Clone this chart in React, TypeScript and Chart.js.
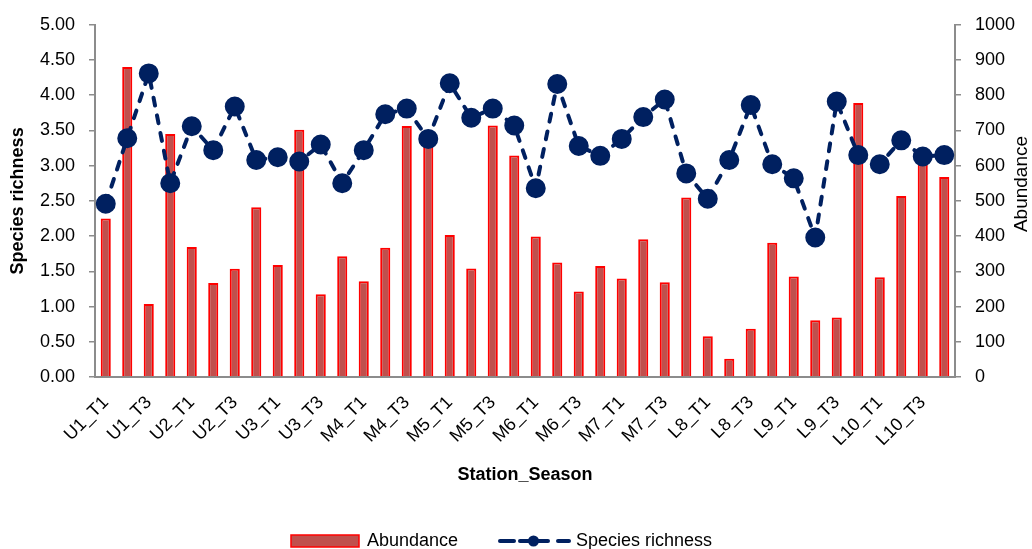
import React, { useEffect, useRef } from "react";
import { Chart, registerables } from "chart.js";

Chart.register(...registerables);

const stations = ["U1", "U2", "U3", "M4", "M5", "M6", "M7", "L8", "L9", "L10"];
const seasons = ["T1", "T2", "T3", "T4"];
const categories = stations.flatMap((s) => seasons.map((t) => `${s}_${t}`));

const abundance = [
  450, 880, 207, 690, 369, 267, 307, 482, 318, 702,
  235, 343, 272, 367, 713, 665, 403, 308, 714, 629,
  399, 325, 243, 315, 280, 391, 269, 510, 116, 52,
  137, 381, 285, 161, 169, 778, 283, 514, 615, 568,
];

const speciesRichness = [
  2.46, 3.39, 4.31, 2.75, 3.56, 3.22, 3.84, 3.08, 3.12, 3.06,
  3.30, 2.75, 3.22, 3.73, 3.81, 3.38, 4.17, 3.68, 3.81, 3.57,
  2.68, 4.16, 3.28, 3.14, 3.38, 3.69, 3.94, 2.89, 2.53, 3.08,
  3.86, 3.02, 2.82, 1.98, 3.91, 3.15, 3.02, 3.36, 3.13, 3.15,
];

const leftTicks = { min: 0, max: 5, step: 0.5 };
const rightTicks = { min: 0, max: 1000, step: 100 };

const FONT = "'Liberation Sans', Arial, sans-serif";
const BAR_FILL = "#C0504D";
const BAR_BORDER = "#FF0000";
const LINE_COLOR = "#002060";
const AXIS_COLOR = "#8C8C8C";

const W = 1032;
const H = 549;

const customPlugin = {
  id: "customDecor",
  afterDraw(chart: any) {
    const ctx = chart.ctx;
    ctx.save();
    // right axis title (reads bottom-to-top)
    ctx.translate(1022, 184);
    ctx.rotate(-Math.PI / 2);
    ctx.font = `19px ${FONT}`;
    ctx.fillStyle = "#000";
    ctx.textAlign = "center";
    ctx.textBaseline = "middle";
    ctx.fillText("Abundance", 0, 0);
    ctx.restore();

    // legend
    ctx.save();
    const ly = 541;
    ctx.fillStyle = BAR_FILL;
    ctx.fillRect(291, 535, 68, 12);
    ctx.strokeStyle = BAR_BORDER;
    ctx.lineWidth = 1.5;
    ctx.strokeRect(291, 535, 68, 12);
    ctx.font = `18px ${FONT}`;
    ctx.fillStyle = "#000";
    ctx.textAlign = "left";
    ctx.textBaseline = "middle";
    ctx.fillText(chart.data.datasets[1].label, 367, ly);

    ctx.strokeStyle = LINE_COLOR;
    ctx.lineWidth = 4;
    ctx.lineCap = "round";
    const segs = [
      [500, 514],
      [520, 548],
      [558, 569],
    ];
    segs.forEach(([a, b]) => {
      ctx.beginPath();
      ctx.moveTo(a, ly);
      ctx.lineTo(b, ly);
      ctx.stroke();
    });
    ctx.fillStyle = LINE_COLOR;
    ctx.beginPath();
    ctx.arc(533.5, ly, 5.5, 0, Math.PI * 2);
    ctx.fill();
    ctx.fillStyle = "#000";
    ctx.fillText(chart.data.datasets[0].label, 576, ly);
    ctx.restore();
  },
};

export default function App() {
  const ref = useRef<HTMLCanvasElement | null>(null);

  useEffect(() => {
    if (!ref.current) return;
    const chart = new Chart(ref.current, {
      type: "bar",
      data: {
        labels: categories,
        datasets: [
          {
            type: "line",
            label: "Species richness",
            data: speciesRichness,
            yAxisID: "y",
            borderColor: LINE_COLOR,
            backgroundColor: LINE_COLOR,
            borderWidth: 4,
            borderDash: [8, 10],
            borderCapStyle: "round",
            pointRadius: 9,
            pointBorderWidth: 2,
            pointBackgroundColor: LINE_COLOR,
            pointBorderColor: LINE_COLOR,
            tension: 0,
            order: 0,
          } as any,
          {
            type: "bar",
            label: "Abundance",
            data: abundance,
            yAxisID: "y1",
            backgroundColor: BAR_FILL,
            borderColor: BAR_BORDER,
            borderWidth: 2,
            barPercentage: 0.47,
            categoryPercentage: 1,
            order: 1,
          } as any,
        ],
      },
      options: {
        responsive: false,
        animation: false,
        layout: { padding: { top: 22.5, left: 0, right: 0, bottom: 0 } },
        plugins: {
          legend: { display: false },
          tooltip: { enabled: false },
        },
        scales: {
          x: {
            grid: { display: false, drawTicks: false },
            border: { display: true, color: AXIS_COLOR, width: 2 },
            ticks: {
              autoSkip: false,
              maxRotation: 45,
              minRotation: 45,
              padding: 15,
              color: "#000",
              font: { family: FONT, size: 18 },
              callback: (_v: any, i: number) => (i % 2 === 0 ? categories[i] : ""),
            },
            title: {
              display: true,
              text: "Station_Season",
              color: "#000",
              font: { family: FONT, size: 18, weight: "bold" },
              padding: { top: 0, bottom: 63 },
            },
            afterFit: (s: any) => {
              s.height = H - 377;
            },
          },
          y: {
            position: "left",
            min: leftTicks.min,
            max: leftTicks.max,
            grid: {
              drawOnChartArea: false,
              drawTicks: true,
              tickLength: 6,
              color: AXIS_COLOR,
              lineWidth: 1.5,
            },
            border: { display: true, color: AXIS_COLOR, width: 2 },
            ticks: {
              stepSize: leftTicks.step,
              padding: 14,
              color: "#000",
              font: { family: FONT, size: 18 },
              callback: (v: any) => Number(v).toFixed(2),
            },
            title: {
              display: true,
              text: "Species richness",
              color: "#000",
              font: { family: FONT, size: 18, weight: "bold" },
              padding: { top: 7, bottom: 0 },
            },
            afterFit: (s: any) => {
              s.width = 95;
            },
          },
          y1: {
            position: "right",
            min: rightTicks.min,
            max: rightTicks.max,
            grid: {
              drawOnChartArea: false,
              drawTicks: true,
              tickLength: 6,
              color: AXIS_COLOR,
              lineWidth: 1.5,
            },
            border: { display: true, color: AXIS_COLOR, width: 2 },
            ticks: {
              stepSize: rightTicks.step,
              padding: 14,
              color: "#000",
              font: { family: FONT, size: 18 },
              callback: (v: any) => String(v),
            },
            afterFit: (s: any) => {
              s.width = W - 955;
            },
          },
        },
      } as any,
      plugins: [customPlugin],
    });
    return () => chart.destroy();
  }, []);

  return (
    <div style={{ position: "fixed", left: 0, top: 0, width: W, height: H, background: "#fff" }}>
      <canvas ref={ref} width={W} height={H} style={{ display: "block" }} />
    </div>
  );
}
